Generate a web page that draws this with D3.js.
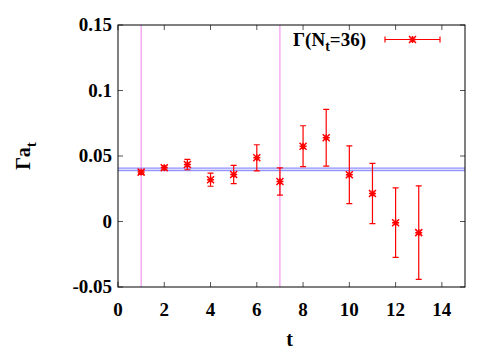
<!DOCTYPE html>
<html>
<head>
<meta charset="utf-8">
<script src="https://cdn.jsdelivr.net/npm/d3@7"></script>
<style>
  body { margin: 0; background: #fff; }
</style>
</head>
<body>
<div id="chart"></div>
<script>
// data
const tVals = [1, 2, 3, 4, 5, 6, 7, 8, 9, 10, 11, 12, 13];
const gamma = [0.0377, 0.0410, 0.0435, 0.0319, 0.0359, 0.0486, 0.0306, 0.0575, 0.0639, 0.0357, 0.0214, -0.0009, -0.0085];
const gammaErr = [0.0010, 0.0015, 0.0040, 0.0050, 0.0070, 0.0100, 0.0104, 0.0156, 0.0217, 0.0220, 0.0230, 0.0265, 0.0357];
const fitVal = 0.0398, fitErr = 0.0010;
const fitRange = [1, 7];
const xTicks = [0, 2, 4, 6, 8, 10, 12, 14];
const yTicks = [-0.05, 0, 0.05, 0.1, 0.15];

const width = 500, height = 350;
const margin = {top: 25, right: 35, bottom: 63, left: 118};

const svg = d3.select("#chart").append("svg")
    .attr("width", width)
    .attr("height", height)
    .style("font-family", "Times, 'Times New Roman', 'Liberation Serif', 'DejaVu Serif', 'Nimbus Roman', FreeSerif, serif")
    .style("font-weight", "bold");

const x = d3.scaleLinear().domain([0, 15]).range([margin.left, width - margin.right]);
const y = d3.scaleLinear().domain([-0.05, 0.15]).range([height - margin.bottom, margin.top]);

const x0 = x.range()[0], x1 = x.range()[1];
const y0 = y.range()[0], y1 = y.range()[1];

// fit band
svg.append("rect")
    .attr("x", x0).attr("width", x1 - x0)
    .attr("y", y(fitVal + fitErr)).attr("height", y(fitVal - fitErr) - y(fitVal + fitErr))
    .attr("fill", "#dcdcff");
[fitVal + fitErr, fitVal - fitErr].forEach(v => {
  svg.append("line")
      .attr("x1", x0).attr("x2", x1)
      .attr("y1", y(v)).attr("y2", y(v))
      .attr("stroke", "#8080ff").attr("stroke-width", 1);
});

// fit range markers
fitRange.forEach(v => {
  svg.append("line")
      .attr("x1", x(v)).attr("x2", x(v))
      .attr("y1", y0).attr("y2", y1)
      .attr("stroke", "#f080f0").attr("stroke-width", 1);
});

// ticks, mirrored
const tl = 5;
const g = svg.append("g").attr("stroke", "#555").attr("stroke-width", 1);
xTicks.forEach(v => {
  g.append("line").attr("x1", x(v)).attr("x2", x(v)).attr("y1", y0).attr("y2", y0 - tl);
  g.append("line").attr("x1", x(v)).attr("x2", x(v)).attr("y1", y1).attr("y2", y1 + tl);
});
yTicks.forEach(v => {
  g.append("line").attr("x1", x0).attr("x2", x0 + tl).attr("y1", y(v)).attr("y2", y(v));
  g.append("line").attr("x1", x1).attr("x2", x1 - tl).attr("y1", y(v)).attr("y2", y(v));
});

// border
svg.append("rect")
    .attr("x", x0).attr("y", y1)
    .attr("width", x1 - x0).attr("height", y0 - y1)
    .attr("fill", "none").attr("stroke", "#000").attr("stroke-width", 1);

// tick labels
svg.append("g").selectAll("text")
    .data(xTicks)
    .join("text")
    .attr("x", d => x(d))
    .attr("y", y0 + 29)
    .attr("text-anchor", "middle")
    .style("font-size", "19px")
    .text(d => d);

svg.append("g").selectAll("text")
    .data(yTicks)
    .join("text")
    .attr("x", x0 - 6)
    .attr("y", d => y(d) + 6)
    .attr("text-anchor", "end")
    .style("font-size", "19px")
    .text(d => d === 0 ? "0" : String(+d.toFixed(2)));

// axis titles
svg.append("text")
    .attr("x", x(7.5) - 2)
    .attr("y", 346)
    .attr("text-anchor", "middle")
    .style("font-size", "20px")
    .text("t");

const yl = svg.append("text")
    .attr("transform", `translate(30, ${(y0 + y1) / 2}) rotate(-90)`)
    .attr("text-anchor", "middle")
    .style("font-size", "20px");
yl.append("tspan").text("Γa");
yl.append("tspan").attr("dy", 6).style("font-size", "15px").text("t");

// data points
function star(sel, cx, cy, r) {
  sel.append("path")
      .attr("d", `M${cx - r},${cy}H${cx + r}M${cx},${cy - r}V${cy + r}` +
                 `M${cx - r},${cy - r}L${cx + r},${cy + r}M${cx - r},${cy + r}L${cx + r},${cy - r}`)
      .attr("stroke", "#ff0000").attr("stroke-width", 1.5).attr("fill", "none");
}

const pts = svg.append("g");
tVals.forEach((t, i) => {
  const cx = x(t), top = y(gamma[i] + gammaErr[i]), bot = y(gamma[i] - gammaErr[i]);
  pts.append("path")
      .attr("d", `M${cx},${top}V${bot}M${cx - 3},${top}H${cx + 3}M${cx - 3},${bot}H${cx + 3}`)
      .attr("stroke", "#ff0000").attr("stroke-width", 1.2).attr("fill", "none");
  star(pts, cx, y(gamma[i]), 3.5);
});

// legend
const leg = svg.append("text")
    .attr("x", 293).attr("y", 46)
    .style("font-size", "19px");
leg.append("tspan").text("Γ(N");
leg.append("tspan").attr("dy", 5).style("font-size", "14px").text("t");
leg.append("tspan").attr("dy", -5).text("=36)");

const ly = 39.5;
svg.append("path")
    .attr("d", `M385,${ly}H440M385,${ly - 3}V${ly + 3}M440,${ly - 3}V${ly + 3}`)
    .attr("stroke", "#ff0000").attr("stroke-width", 1.2).attr("fill", "none");
star(svg, 412.5, ly, 3.5);
</script>
</body>
</html>
